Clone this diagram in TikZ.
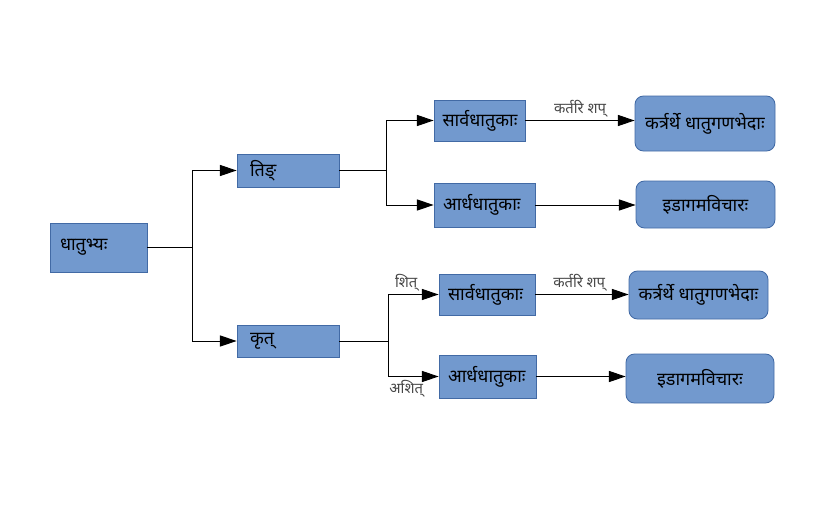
\documentclass[tikz,border=0pt]{standalone}
\usepackage{fontspec}
\setmainfont[Script=Devanagari]{Noto Sans}
\usetikzlibrary{arrows.meta}

\begin{document}
\begin{tikzpicture}

    % Colours of the boxes
    \definecolor{boxfill}{RGB}{114,153,206}
    \definecolor{boxline}{RGB}{66,106,165}
    \definecolor{labcol}{RGB}{70,70,70}

    % Common styles
    \tikzset{
        sqbox/.style={draw=boxline, fill=boxfill, semithick, align=left,
            font=\fontsize{12.8}{14}\selectfont, inner xsep=0.25cm, anchor=center},
        rdbox/.style={draw=boxline, fill=boxfill, semithick, rounded corners=6pt,
            align=center, font=\fontsize{12.8}{14}\selectfont},
        link/.style={line width=0.7pt, -{Triangle[length=4.2mm, width=2.8mm]}},
        plain/.style={line width=0.7pt},
        edgelab/.style={font=\fontsize{10.5}{12}\selectfont, text=labcol, inner sep=2pt}
    }

    \useasboundingbox (0,0) rectangle (20.625,-12.75);

    % ===================== Root =====================
    \node[sqbox, minimum width=2.425cm, minimum height=1.225cm,
        text width=1.925cm, inner xsep=0.2cm] (root) at (2.4625,-6.1875) {धातुभ्यः};

    % ================ Second level =================
    \node[sqbox, minimum width=2.55cm, minimum height=0.825cm,
        text width=1.9cm, inner xsep=0.28cm] (tin) at (7.2,-4.2625) {तिङ्};
    \node[sqbox, minimum width=2.55cm, minimum height=0.8cm,
        text width=1.9cm, inner xsep=0.28cm] (krt) at (7.2,-8.525) {कृत्};

    % ================= Third level =================
    \node[sqbox, minimum width=2.275cm, minimum height=1.025cm,
        text width=1.85cm, inner xsep=0.2cm] (sarvaA) at (11.9875,-3.0125) {सार्वधातुकाः};
    \node[sqbox, minimum width=2.525cm, minimum height=1.1cm,
        text width=2.075cm, inner xsep=0.22cm] (ardhaA) at (12.1125,-5.125) {आर्धधातुकाः};
    \node[sqbox, minimum width=2.4cm, minimum height=1.025cm,
        text width=1.95cm, inner xsep=0.22cm] (sarvaB) at (12.175,-7.3625) {सार्वधातुकाः};
    \node[sqbox, minimum width=2.425cm, minimum height=1.075cm,
        text width=1.975cm, inner xsep=0.22cm] (ardhaB) at (12.1875,-9.4125) {आर्धधातुकाः};

    % ================= Fourth level ================
    \node[rdbox, minimum width=3.5cm, minimum height=1.375cm]
        (ganaA) at (17.625,-3.0875) {कर्त्रर्थे धातुगणभेदाः};
    \node[rdbox, minimum width=3.475cm, minimum height=1.175cm]
        (idA) at (17.6375,-5.1125) {इडागमविचारः};
    \node[rdbox, minimum width=3.475cm, minimum height=1.2cm]
        (ganaB) at (17.4625,-7.375) {कर्त्रर्थे धातुगणभेदाः};
    \node[rdbox, minimum width=3.7cm, minimum height=1.225cm]
        (idB) at (17.5,-9.4625) {इडागमविचारः};

    % ================= Connectors ==================
    \coordinate (jroot) at (4.8,-6.1875);
    \coordinate (jtin) at (9.65,-4.2625);
    \coordinate (jkrt) at (9.7,-8.525);

    \draw[plain] (root.east) -- (jroot);
    \draw[link] (jroot) |- (tin.west);
    \draw[link] (jroot) |- (krt.west);

    \draw[plain] (tin.east) -- (jtin);
    \draw[link] (jtin) |- (sarvaA.west);
    \draw[link] (jtin) |- (ardhaA.west);

    \draw[plain] (krt.east) -- (jkrt);
    \draw[link] (jkrt) |- node[edgelab, pos=0.68, above] {शित्} (sarvaB.west);
    \draw[link] (jkrt) |- node[edgelab, pos=0.68, below] {अशित्} (ardhaB.west);

    \draw[link] (sarvaA.east) -- node[edgelab, above] {कर्तरि शप्} (sarvaA.east -| ganaA.west);
    \draw[link] (ardhaA.east) -- (ardhaA.east -| idA.west);
    \draw[link] (sarvaB.east) -- node[edgelab, above, xshift=-2pt] {कर्तरि शप्} (sarvaB.east -| ganaB.west);
    \draw[link] (ardhaB.east) -- (ardhaB.east -| idB.west);

\end{tikzpicture}
\end{document}
